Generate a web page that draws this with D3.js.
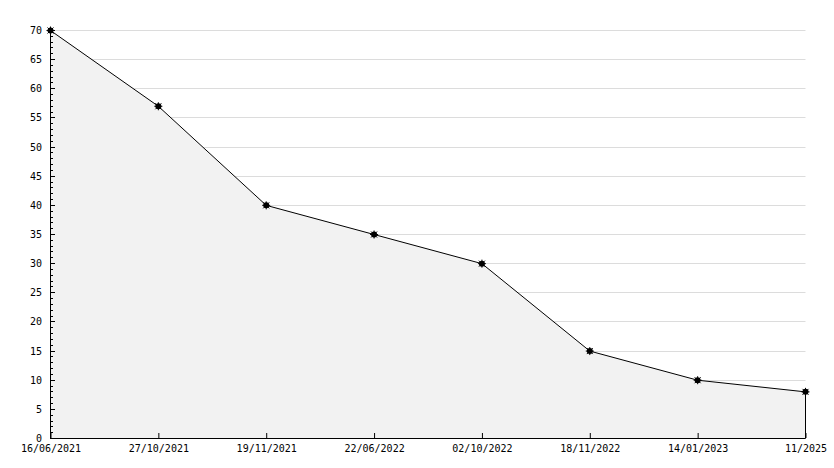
<!DOCTYPE html>
<html>
<head>
<meta charset="utf-8">
<script src="https://cdn.jsdelivr.net/npm/d3@7/dist/d3.min.js"></script>
<style>
html,body{margin:0;padding:0;background:#fff;}
svg text{font-family:"DejaVu Sans Mono",monospace;font-size:10px;fill:#000;}
</style>
</head>
<body>
<svg id="chart" width="834" height="468"></svg>
<script>
const categories = ["16/06/2021","27/10/2021","19/11/2021","22/06/2022","02/10/2022","18/11/2022","14/01/2023","11/2025"];
const values = [70, 57, 40, 35, 30, 15, 10, 8];
const yTicks = [0,5,10,15,20,25,30,35,40,45,50,55,60,65,70];

(function(){
const data = categories.map((c,i)=>({c, v: values[i]}));
const svg = d3.select("#chart");
const pLeft = 50.5, pRight = 805.5, pTop = 30.5, pBottom = 438.5;

const x = d3.scalePoint().domain(categories).range([pLeft, pRight]).padding(0);
const y = d3.scaleLinear().domain([0,70]).range([pBottom, pTop]);

// grid
svg.append("g").selectAll("line").data(yTicks.filter(t=>t>0)).join("line")
  .attr("x1", pLeft).attr("x2", pRight)
  .attr("y1", d=>Math.floor(y(d))+0.5).attr("y2", d=>Math.floor(y(d))+0.5)
  .attr("stroke","#dcdcdc").attr("stroke-width",1);

// area
const area = d3.area().x(d=>x(d.c)).y0(pBottom).y1(d=>y(d.v));
svg.append("path").datum(data).attr("d", area).attr("fill","#f2f2f2");

// right edge line
svg.append("line").attr("x1", pRight).attr("x2", pRight)
  .attr("y1", y(values[values.length-1])).attr("y2", pBottom)
  .attr("stroke","#000").attr("stroke-width",1);

// line
const line = d3.line().x(d=>x(d.c)).y(d=>y(d.v));
svg.append("path").datum(data).attr("d", line)
  .attr("fill","none").attr("stroke","#000").attr("stroke-width",1);

// y axis minor ticks
const minor = d3.range(0,71,1).filter(v=>v%5!==0);
const yAxisMinor = d3.axisRight(y).tickValues(minor).tickSize(3).tickFormat("");
const gMinor = svg.append("g").attr("transform",`translate(${pLeft-0.5},0)`).call(yAxisMinor);
gMinor.select(".domain").remove();
gMinor.selectAll(".tick").attr("transform", d=>`translate(0,${Math.floor(y(d))+0.5})`);

// y axis
const yAxis = d3.axisLeft(y).tickValues(yTicks).tickSize(0).tickPadding(8);
const gy = svg.append("g").attr("transform",`translate(${pLeft-0.5},0)`).call(yAxis);
gy.selectAll(".tick").attr("transform", d=>`translate(0,${Math.floor(y(d))+0.5})`);
gy.selectAll(".tick line").remove();
gy.selectAll(".tick").append("line").attr("x1",0).attr("x2",5).attr("stroke","#000");
gy.select(".domain").attr("d", `M0.5,${pBottom}V${pTop-1}`).attr("stroke","#000");
gy.selectAll("text").attr("dy","0.35em");

// x axis
const xAxis = d3.axisBottom(x).tickSize(0).tickPadding(7);
const gx = svg.append("g").attr("transform",`translate(0,${pBottom-0.5})`).call(xAxis);
gx.select(".domain").attr("d", `M${pLeft-0.5},0.5H${pRight}`).attr("stroke","#000");
gx.selectAll(".tick").append("line").attr("y1",0).attr("y2",-5).attr("stroke","#000");

// markers
const mk = svg.append("g").selectAll("g").data(data).join("g")
  .attr("transform", d=>`translate(${x(d.c)},${y(d.v)})`);
mk.append("circle").attr("r",3).attr("fill","#000");
mk.append("path").attr("d","M-4,0H4M0,-4V4M-3,-3L3,3M-3,3L3,-3").attr("stroke","#000").attr("stroke-width",1);
})();
</script>
</body>
</html>
